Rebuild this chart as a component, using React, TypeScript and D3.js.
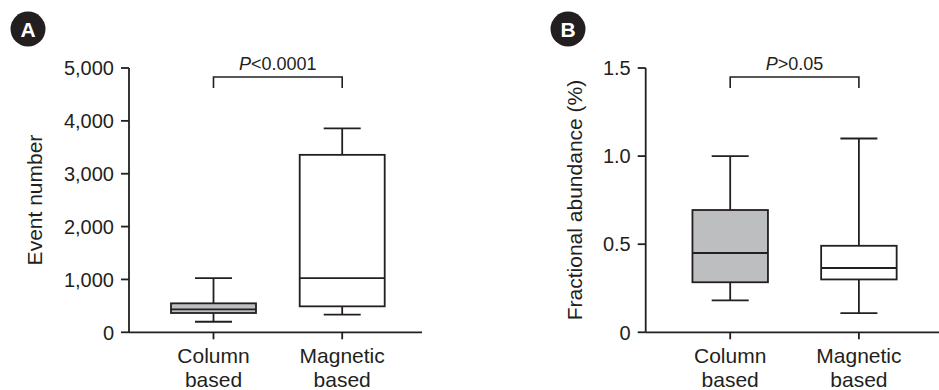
import * as d3 from "d3"

// categories and box statistics (min, q1, median, q3, max)
const categories = ["Column based", "Magnetic based"]
const eventColumn = [200, 365, 435, 548, 1026]
const eventMagnetic = [333, 491, 1026, 3357, 3856]
const abundanceColumn = [0.181, 0.284, 0.45, 0.694, 1.0]
const abundanceMagnetic = [0.109, 0.3, 0.365, 0.491, 1.1]

const eventTicks = [0, 1000, 2000, 3000, 4000, 5000]
const abundanceTicks = [0, 0.5, 1.0, 1.5]

// bracket: top value, end value, label
const eventBracket = [4830, 4620]
const abundanceBracket = [1.449, 1.386]
const eventP = [{ it: "P", rest: "<0.0001" }]
const abundanceP = [{ it: "P", rest: ">0.05" }]

const INK = "#231f20"
const GREY = "#bcbec0"
const FONT = "'Liberation Sans', Arial, Helvetica, sans-serif"

interface PanelProps {
  letter: string
  letterX: number
  axisX: number
  axisEnd: number
  labelX: number
  yLabel: string
  yMax: number
  ticks: number[]
  fmt: (d: number) => string
  series: number[][]
  boxWidth: number
  bracket: number[]
  p: { it: string; rest: string }[]
}

function Panel({ letter, letterX, axisX, axisEnd, labelX, yLabel, yMax, ticks, fmt, series, boxWidth, bracket, p }: PanelProps) {
  const y = d3.scaleLinear().domain([0, yMax]).range([332.3, 68])
  const x = d3.scalePoint<string>().domain(categories).range([axisX + 84.5, axisX + 213.2])
  const capW = 37
  const fills = [GREY, "#ffffff"]

  return (
    <g>
      <circle cx={letterX} cy={29} r={17.5} fill={INK} />
      <text x={letterX} y={36.5} textAnchor="middle" fill="#fff" fontFamily={FONT} fontWeight="bold" fontSize={21}>
        {letter}
      </text>

      {/* y axis */}
      <line x1={axisX} x2={axisX} y1={y(yMax)} y2={y(0)} stroke={INK} strokeWidth={1.8} />
      {ticks.map((t) => (
        <g key={t}>
          <line x1={axisX - 8} x2={axisX} y1={y(t)} y2={y(t)} stroke={INK} strokeWidth={1.8} />
          <text x={axisX - 15} y={y(t)} dy="0.36em" textAnchor="end" fill={INK} fontFamily={FONT} fontSize={20}>
            {fmt(t)}
          </text>
        </g>
      ))}
      <text
        transform={`translate(${labelX},200) rotate(-90)`}
        textAnchor="middle"
        fill={INK}
        fontFamily={FONT}
        fontSize={21}
      >
        {yLabel}
      </text>

      {/* x axis */}
      <line x1={axisX} x2={axisEnd} y1={y(0)} y2={y(0)} stroke={INK} strokeWidth={1.8} />
      {categories.map((c) => {
        const [l1, l2] = c.split(" ")
        return (
          <g key={c}>
            <line x1={x(c)} x2={x(c)} y1={y(0)} y2={y(0) + 7} stroke={INK} strokeWidth={1.8} />
            <text x={x(c)} y={363} textAnchor="middle" fill={INK} fontFamily={FONT} fontSize={21}>
              {l1}
            </text>
            <text x={x(c)} y={387} textAnchor="middle" fill={INK} fontFamily={FONT} fontSize={21}>
              {l2}
            </text>
          </g>
        )
      })}

      {/* boxes */}
      {series.map((s, i) => {
        const cx = x(categories[i])!
        const [mn, q1, md, q3, mx] = s
        return (
          <g key={i} stroke={INK} strokeWidth={1.8}>
            <line x1={cx} x2={cx} y1={y(mx)} y2={y(q3)} />
            <line x1={cx} x2={cx} y1={y(q1)} y2={y(mn)} />
            <line x1={cx - capW / 2} x2={cx + capW / 2} y1={y(mx)} y2={y(mx)} />
            <line x1={cx - capW / 2} x2={cx + capW / 2} y1={y(mn)} y2={y(mn)} />
            <rect x={cx - boxWidth / 2} y={y(q3)} width={boxWidth} height={y(q1) - y(q3)} fill={fills[i]} />
            <line x1={cx - boxWidth / 2} x2={cx + boxWidth / 2} y1={y(md)} y2={y(md)} />
          </g>
        )
      })}

      {/* significance bracket */}
      <path
        d={`M${x(categories[0])},${y(bracket[1])}V${y(bracket[0])}H${x(categories[1])}V${y(bracket[1])}`}
        fill="none"
        stroke={INK}
        strokeWidth={1.6}
      />
      <text
        x={(x(categories[0])! + x(categories[1])!) / 2}
        y={70}
        textAnchor="middle"
        fill={INK}
        fontFamily={FONT}
        fontSize={18}
      >
        <tspan fontStyle="italic">{p[0].it}</tspan>
        {p[0].rest}
      </text>
    </g>
  )
}

export default function App() {
  const fmtEvent = d3.format(",")
  const fmtAbund = (d: number) => (d === 0 ? "0" : d.toFixed(1))
  return (
    <svg width={939} height={390} style={{ position: "absolute", left: 0, top: 0, background: "#fff" }}>
      <Panel
        letter="A"
        letterX={28}
        axisX={129}
        axisEnd={422}
        labelX={41.7}
        yLabel="Event number"
        yMax={5000}
        ticks={eventTicks}
        fmt={fmtEvent}
        series={[eventColumn, eventMagnetic]}
        boxWidth={85}
        bracket={eventBracket}
        p={eventP}
      />
      <Panel
        letter="B"
        letterX={568}
        axisX={645.7}
        axisEnd={939}
        labelX={581.7}
        yLabel="Fractional abundance (%)"
        yMax={1.5}
        ticks={abundanceTicks}
        fmt={fmtAbund}
        series={[abundanceColumn, abundanceMagnetic]}
        boxWidth={75.5}
        bracket={abundanceBracket}
        p={abundanceP}
      />
    </svg>
  )
}
